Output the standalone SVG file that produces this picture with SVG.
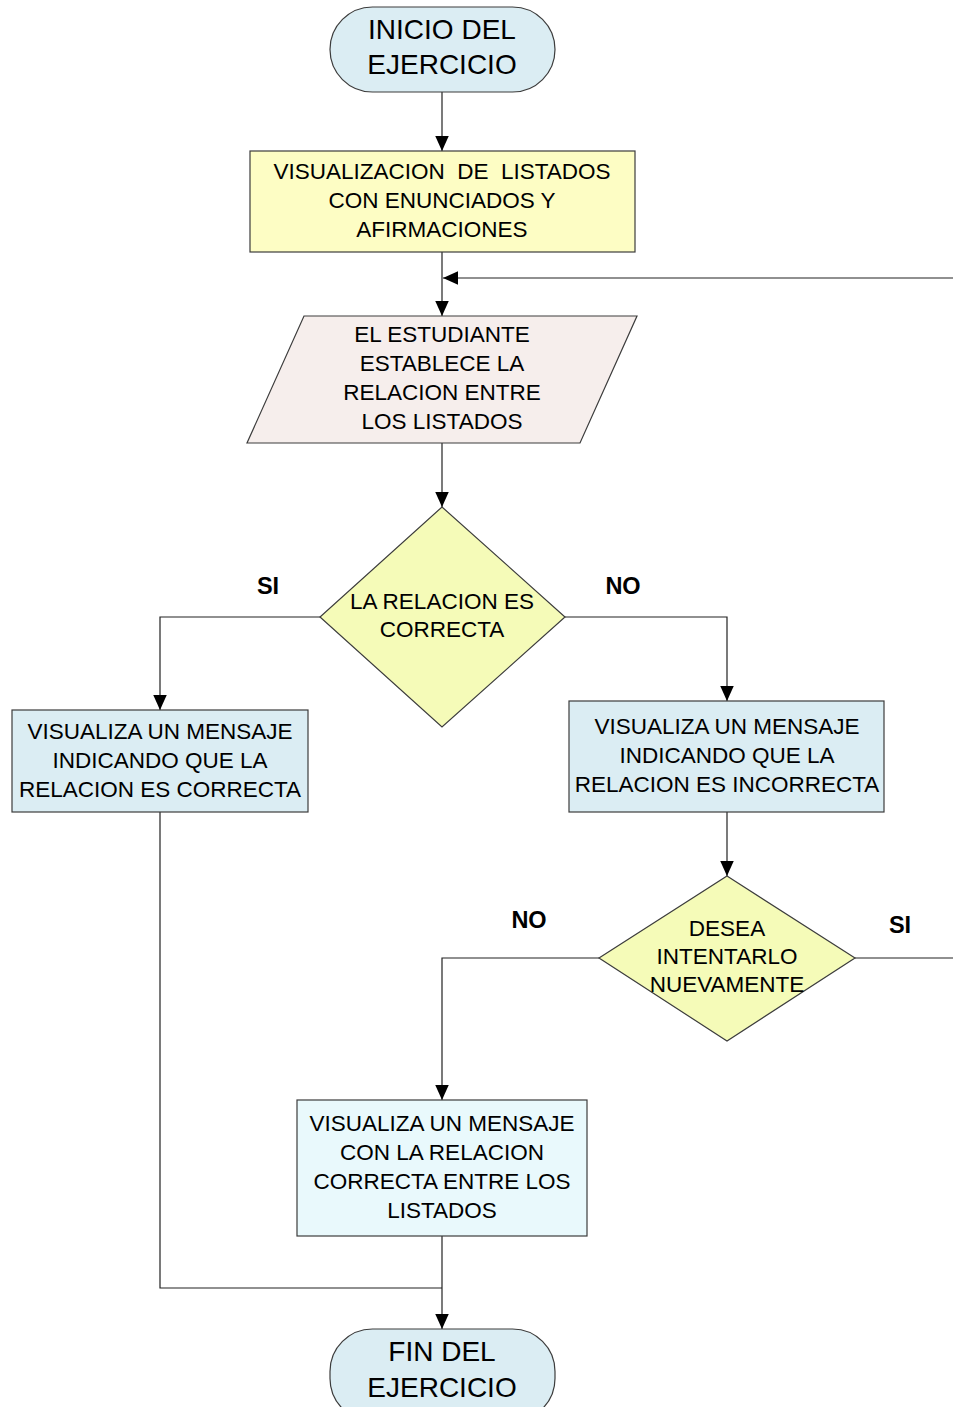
<svg xmlns="http://www.w3.org/2000/svg" width="953" height="1407" viewBox="0 0 953 1407">
  <style>
    .t { font-family: "Liberation Sans", Arial, sans-serif; font-size: 22.5px; fill: #000; text-anchor: middle; dominant-baseline: central; }
    .big { font-size: 28px; }
    .lbl { font-family: "Liberation Sans", Arial, sans-serif; font-size: 23.5px; font-weight: bold; fill: #000; text-anchor: middle; dominant-baseline: central; }
    .shape { stroke: #3c3c3c; stroke-width: 1.2; }
    .term { fill: #dbedf3; }
    .proc-y { fill: #fdfdc4; }
    .io { fill: #f6eeec; }
    .dec { fill: #f5fbb8; }
    .proc-b { fill: #dbedf3; }
    .proc-c { fill: #e9f9fc; }
    .conn { fill: none; stroke: #222; stroke-width: 1.2; }
  </style>
  <defs>
    <marker id="arr" viewBox="0 0 10 10" refX="10" refY="5" markerWidth="15" markerHeight="15" markerUnits="userSpaceOnUse" orient="auto">
      <path d="M0,0.5 L10,5 L0,9.5 Z" fill="#000"/>
    </marker>
  </defs>

  <rect width="953" height="1407" fill="#fff"/>

  <!-- connectors -->
  <g id="connectors">
    <path class="conn" d="M442,92 V151" marker-end="url(#arr)"/>
    <path class="conn" d="M442,252 V316" marker-end="url(#arr)"/>
    <path class="conn" d="M953,278 H443" marker-end="url(#arr)"/>
    <path class="conn" d="M442,443 V507" marker-end="url(#arr)"/>
    <path class="conn" d="M320,617 H160 V710" marker-end="url(#arr)"/>
    <path class="conn" d="M565,617 H727 V701" marker-end="url(#arr)"/>
    <path class="conn" d="M727,812 V876" marker-end="url(#arr)"/>
    <path class="conn" d="M599,958 H442 V1100" marker-end="url(#arr)"/>
    <path class="conn" d="M855,958 H953"/>
    <path class="conn" d="M442,1236 V1329" marker-end="url(#arr)"/>
    <path class="conn" d="M160,812 V1288 H442"/>
    <text class="lbl" x="268" y="586">SI</text>
    <text class="lbl" x="623" y="586">NO</text>
    <text class="lbl" x="529" y="920">NO</text>
    <text class="lbl" x="900" y="925">SI</text>
  </g>

  <g id="inicio">
    <rect class="shape term" x="330" y="7" width="225" height="85" rx="42.5" ry="42.5"/>
    <text class="t big" x="442" y="29">INICIO DEL</text>
    <text class="t big" x="442" y="64">EJERCICIO</text>
  </g>

  <g id="listados">
    <rect class="shape proc-y" x="250" y="151" width="385" height="101"/>
    <text class="t" x="442" y="171" xml:space="preserve">VISUALIZACION  DE  LISTADOS</text>
    <text class="t" x="442" y="200">CON ENUNCIADOS Y</text>
    <text class="t" x="442" y="229">AFIRMACIONES</text>
  </g>

  <g id="estudiante">
    <polygon class="shape io" points="304,316 637,316 580,443 247,443"/>
    <text class="t" x="442" y="334">EL ESTUDIANTE</text>
    <text class="t" x="442" y="363">ESTABLECE LA</text>
    <text class="t" x="442" y="392">RELACION ENTRE</text>
    <text class="t" x="442" y="421">LOS LISTADOS</text>
  </g>

  <g id="relacion">
    <polygon class="shape dec" points="442,507 565,617 442,727 320,617"/>
    <text class="t" x="442" y="601">LA RELACION ES</text>
    <text class="t" x="442" y="629">CORRECTA</text>
  </g>

  <g id="correcta">
    <rect class="shape proc-b" x="12" y="710" width="296" height="102"/>
    <text class="t" x="160" y="731">VISUALIZA UN MENSAJE</text>
    <text class="t" x="160" y="760">INDICANDO QUE LA</text>
    <text class="t" x="160" y="789">RELACION ES CORRECTA</text>
  </g>

  <g id="incorrecta">
    <rect class="shape proc-b" x="569" y="701" width="315" height="111"/>
    <text class="t" x="727" y="726">VISUALIZA UN MENSAJE</text>
    <text class="t" x="727" y="755">INDICANDO QUE LA</text>
    <text class="t" x="727" y="784">RELACION ES INCORRECTA</text>
  </g>

  <g id="intentar">
    <polygon class="shape dec" points="727,876 855,958 727,1041 599,958"/>
    <text class="t" x="727" y="928">DESEA</text>
    <text class="t" x="727" y="956">INTENTARLO</text>
    <text class="t" x="727" y="984">NUEVAMENTE</text>
  </g>

  <g id="solucion">
    <rect class="shape proc-c" x="297" y="1100" width="290" height="136"/>
    <text class="t" x="442" y="1123">VISUALIZA UN MENSAJE</text>
    <text class="t" x="442" y="1152">CON LA RELACION</text>
    <text class="t" x="442" y="1181">CORRECTA ENTRE LOS</text>
    <text class="t" x="442" y="1210">LISTADOS</text>
  </g>

  <g id="fin">
    <rect class="shape term" x="330" y="1329" width="225" height="92" rx="42.5" ry="42.5"/>
    <text class="t big" x="442" y="1351">FIN DEL</text>
    <text class="t big" x="442" y="1387">EJERCICIO</text>
  </g>
</svg>
